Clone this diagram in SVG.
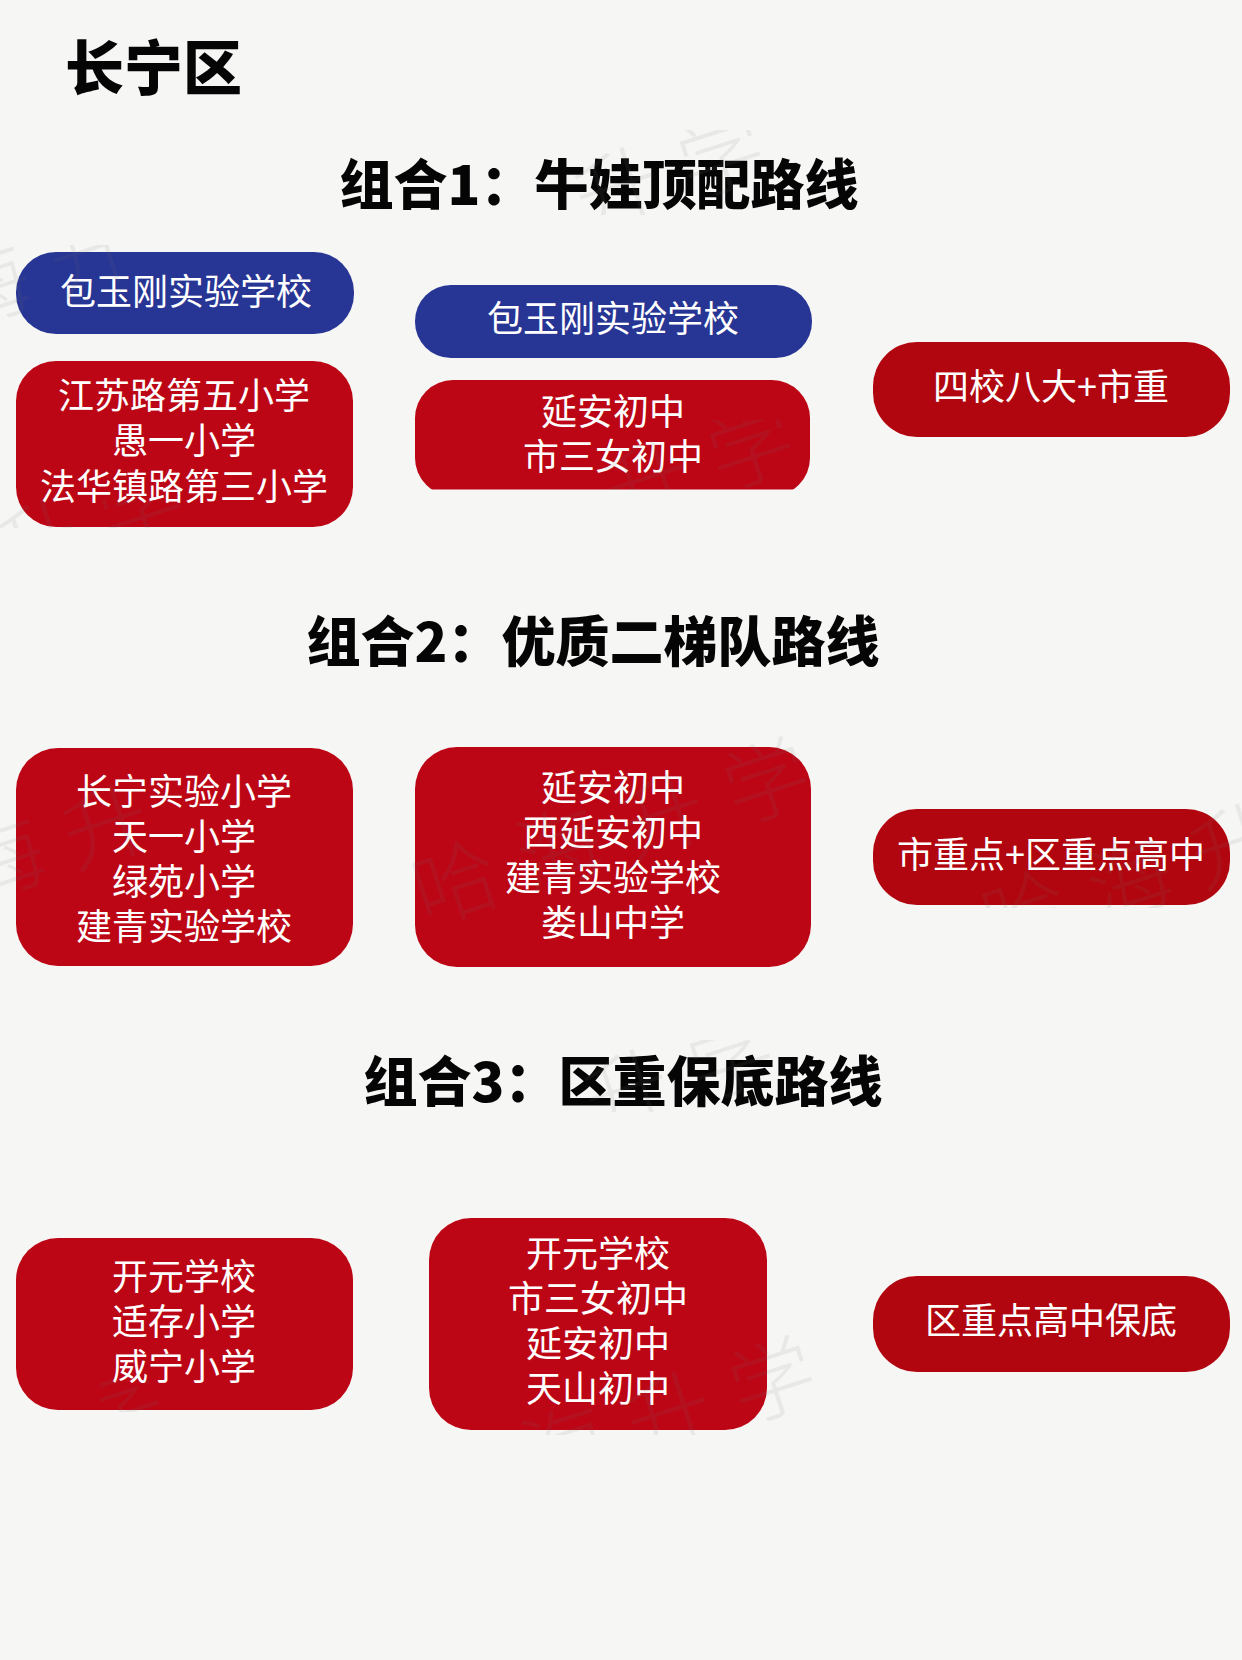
<svg xmlns="http://www.w3.org/2000/svg" width="1242" height="1660" viewBox="0 0 1242 1660">
<style>
text{font-family:"Noto Sans CJK SC","Noto Sans",sans-serif}
.h{font-weight:900;fill:#050505;font-size:54px;text-anchor:middle}
.t{font-size:36px;font-weight:400;fill:#fff;text-anchor:middle}
.r{fill:#bc0616}.d{fill:#b1060f}.b{fill:#273594}
.w{font-size:85px;font-weight:300;fill:#777;opacity:.1;text-anchor:middle;letter-spacing:24px}
</style>
<defs>
<clipPath id="cut"><rect x="400" y="370" width="430" height="119.500"/></clipPath>
<clipPath id="c1"><rect x="0" y="130" width="1242" height="85"/></clipPath>
<clipPath id="c2"><rect x="0" y="245" width="400" height="85"/></clipPath>
<clipPath id="c3"><rect x="0" y="500" width="400" height="28"/></clipPath>
<clipPath id="c4"><rect x="400" y="420" width="420" height="70"/></clipPath>
<clipPath id="c5"><rect x="960" y="800" width="282" height="108"/></clipPath>
<clipPath id="c6"><rect x="500" y="1040" width="320" height="72"/></clipPath>
<clipPath id="c7"><rect x="500" y="1330" width="340" height="105"/></clipPath>
<clipPath id="c8"><rect x="100" y="1380" width="80" height="32"/></clipPath>
</defs>
<rect width="1242" height="1660" fill="#f6f6f4"/>
<text x="65" y="90" font-size="59" font-weight="900" fill="#050505">长宁区</text>
<text class="h" x="599" y="205">组合1：牛娃顶配路线</text>
<text class="h" x="593" y="662">组合2：优质二梯队路线</text>
<text class="h" x="623" y="1102">组合3：区重保底路线</text>
<g id="nodes">
<g id="n1"><rect class="b" x="16" y="252" width="338" height="82" rx="40"/><text class="t" x="186" y="305">包玉刚实验学校</text></g>
<g id="n2"><rect class="r" x="16" y="361" width="337" height="166" rx="40"/><text class="t"><tspan x="184" y="409">江苏路第五小学</tspan><tspan x="184" y="454">愚一小学</tspan><tspan x="184" y="500">法华镇路第三小学</tspan></text></g>
<g id="n3"><rect class="b" x="415" y="285" width="397" height="73" rx="36"/><text class="t" x="613" y="332">包玉刚实验学校</text></g>
<g id="n4"><rect class="r" x="415" y="380" width="395" height="116" rx="38" clip-path="url(#cut)"/><text class="t"><tspan x="613" y="425">延安初中</tspan><tspan x="613" y="470">市三女初中</tspan></text></g>
<g id="n5"><rect class="d" x="873" y="342" width="357" height="95" rx="44"/><text class="t" x="1051" y="400">四校八大+市重</text></g>
<g id="n6"><rect class="r" x="16" y="748" width="337" height="218" rx="42"/><text class="t"><tspan x="184" y="805">长宁实验小学</tspan><tspan x="184" y="850">天一小学</tspan><tspan x="184" y="895">绿苑小学</tspan><tspan x="184" y="940">建青实验学校</tspan></text></g>
<g id="n7"><rect class="r" x="415" y="747" width="396" height="220" rx="42"/><text class="t"><tspan x="613" y="801">延安初中</tspan><tspan x="613" y="846">西延安初中</tspan><tspan x="613" y="891">建青实验学校</tspan><tspan x="613" y="936">娄山中学</tspan></text></g>
<g id="n8"><rect class="d" x="873" y="809" width="357" height="96" rx="44"/><text class="t" x="1051" y="868">市重点+区重点高中</text></g>
<g id="n9"><rect class="r" x="16" y="1238" width="337" height="172" rx="42"/><text class="t"><tspan x="184" y="1290">开元学校</tspan><tspan x="184" y="1335">适存小学</tspan><tspan x="184" y="1380">威宁小学</tspan></text></g>
<g id="n10"><rect class="r" x="429" y="1218" width="338" height="212" rx="42"/><text class="t"><tspan x="598" y="1267">开元学校</tspan><tspan x="598" y="1312">市三女初中</tspan><tspan x="598" y="1357">延安初中</tspan><tspan x="598" y="1402">天山初中</tspan></text></g>
<g id="n11"><rect class="d" x="873" y="1276" width="357" height="96" rx="44"/><text class="t" x="1051" y="1334">区重点高中保底</text></g>
</g>
<g id="connectors"/>
<g id="watermarks">
<g clip-path="url(#c1)"><text class="w" transform="translate(690 198) rotate(-18)">升学</text></g>
<g clip-path="url(#c2)"><text class="w" transform="translate(60 295) rotate(-18)">海升</text></g>
<g clip-path="url(#c3)"><text class="w" transform="translate(110 550) rotate(-18)">升学</text></g>
<g clip-path="url(#c4)"><text class="w" transform="translate(720 490) rotate(-18)">升学</text></g>
<text class="w" transform="translate(632 858) rotate(-18)">哈海升学</text>
<text class="w" transform="translate(75 868) rotate(-18)">海升</text>
<g clip-path="url(#c5)"><text class="w" transform="translate(1150 905) rotate(-18)">哈海升</text></g>
<g clip-path="url(#c6)"><text class="w" transform="translate(700 1100) rotate(-18)">升学</text></g>
<g clip-path="url(#c7)"><text class="w" transform="translate(690 1440) rotate(-18)">海升学</text></g>
<g clip-path="url(#c8)"><text class="w" transform="translate(140 1430) rotate(-18)">学</text></g>
</g>
</svg>
